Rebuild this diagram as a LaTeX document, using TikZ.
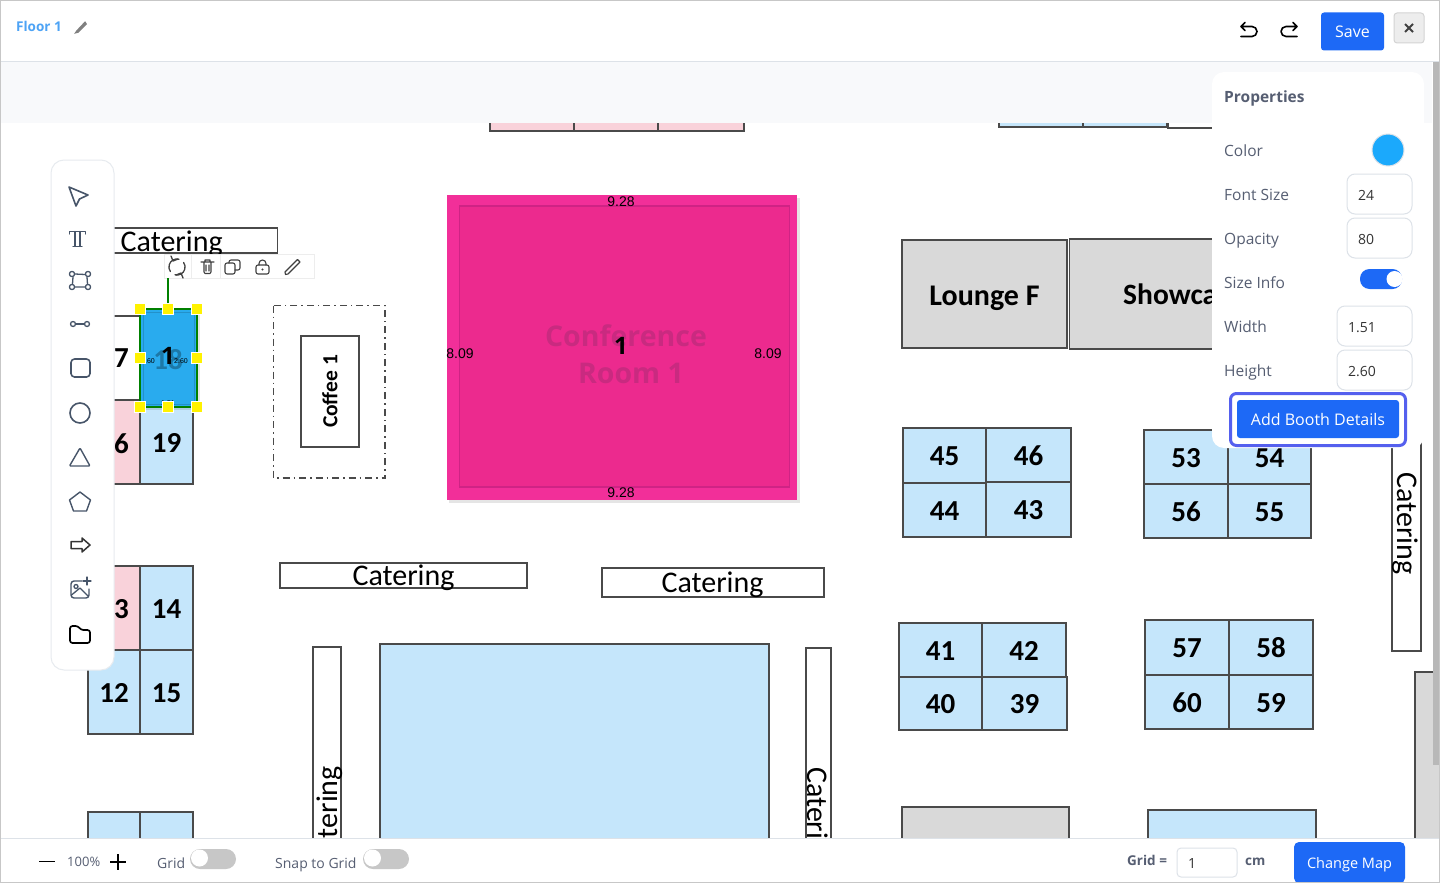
\documentclass[tikz,border=0pt]{standalone}
\usepackage{fontspec}
\setmainfont{Open Sans}
\newfontfamily\mapfont{Carlito}
\newfontfamily\dimfont{Liberation Sans}
\usepackage{tikz}
\usetikzlibrary{positioning}
\newcommand{\fsz}[1]{\fontsize{#1}{#1}\selectfont}
\definecolor{boothblue}{HTML}{C5E6FB}
\definecolor{boothpink}{HTML}{F9D2DA}
\definecolor{boothgrey}{HTML}{D9D9D9}
\definecolor{boothline}{HTML}{4A4A4A}
\definecolor{bandgrey}{HTML}{F8F9FB}
\definecolor{uiblue}{HTML}{1D69F6}
\definecolor{uitext}{HTML}{565E72}
\definecolor{iconline}{HTML}{475569}
\definecolor{edgegrey}{HTML}{DDE2E8}
\definecolor{hotpink}{HTML}{F22F99}
\definecolor{hotinner}{HTML}{EC2A8E}
\definecolor{hotline}{HTML}{CF2385}
\definecolor{hottext}{HTML}{C92A80}
\definecolor{selblue}{HTML}{29ABEE}
\definecolor{floorblue}{HTML}{4DA3F5}
\definecolor{swatchblue}{HTML}{1BA9FC}
\definecolor{ringblue}{HTML}{5560EE}
\tikzset{
  booth/.style={draw=boothline,line width=1.4pt,inner sep=0pt,fill=boothblue,text height=20.5pt,text depth=0pt,font=\mapfont\bfseries\fsz{29}},
  boothtext/.style={inner sep=0pt,font=\mapfont\bfseries\fsz{29}},
  lounge/.style={booth,fill=boothgrey,text height=22pt,font=\mapfont\bfseries\fsz{30}},
  cater/.style={draw=boothline,line width=1.4pt,inner sep=0pt,fill=white},
  catertext/.style={inner sep=0pt,font=\mapfont\fsz{30}},
  dimtext/.style={inner sep=0pt,font=\dimfont\fsz{14}},
  tinytext/.style={inner sep=0pt,font=\dimfont\fsz{7}},
  handle/.style={fill=yellow,draw=white,line width=0.5pt,minimum size=11pt,inner sep=0pt},
  uilabel/.style={anchor=base west,inner sep=0pt,text=uitext,font=\fsz{15.5}},
  inputbox/.style={draw=edgegrey,fill=white,rounded corners=8pt,line width=1pt,inner sep=0pt},
  inputtext/.style={anchor=base west,inner sep=0pt,text=black!80,font=\fsz{14}},
  uibutton/.style={fill=uiblue,text=white,rounded corners=3pt,inner sep=0pt,font=\fsz{16}},
  icon/.style={draw=iconline,line width=1.6pt,line join=round,line cap=round},
  darkicon/.style={draw=black,line width=1.6pt,line join=round,line cap=round},
  miniicon/.style={draw=black!75,line width=1.1pt,line join=round,line cap=round},
  toggleoff/.style={fill=black!22,rounded corners=10pt},
}
\begin{document}
\begin{tikzpicture}[x=1pt,y=-1pt]
\useasboundingbox (0,0) rectangle (1440,883);
\fill[white] (0,0) rectangle (1440,883);

\foreach \cx/\cy/\w/\h/\col/\nm/\txt in {
  532/90/84/82/boothpink/pa/{},616/90/84/82/boothpink/pb/{},701/90/86/82/boothpink/pc/{},
  1041/90/84/74/boothblue/ta/{},1125/90/84/74/boothblue/tb/{},1200/90/64/76/white/tc/{},
  114/358/52/84/white/s7/{},166.5/358/53/84/boothblue/s18/{},114/442/52/84/boothpink/s6/{},166.5/442/53/84/boothblue/s19/19,
  114/608/52/84/boothpink/s3/{},166.5/608/53/84/boothblue/s14/14,114/692/52/84/boothblue/s12/12,166.5/692/53/84/boothblue/s15/15,
  114/850/52/76/boothblue/s1a/{},166.5/850/53/76/boothblue/s1b/{},
  944.5/455.5/83/55/boothblue/s45/45,1028.5/455/85/54/boothblue/s46/46,944.5/510/83/54/boothblue/s44/44,1028.5/509.5/85/55/boothblue/s43/43,
  1186/457/84/54/boothblue/s53/53,1269.5/457/83/54/boothblue/s54/54,1186/511/84/54/boothblue/s56/56,1269.5/511/83/54/boothblue/s55/55,
  940.5/650/83/54/boothblue/s41/41,1024/650/84/54/boothblue/s42/42,940.5/703.5/83/53/boothblue/s40/40,1024.5/703.5/85/53/boothblue/s39/39,
  1187/647.5/84/55/boothblue/s57/57,1271/647.5/84/55/boothblue/s58/58,1187/702/84/54/boothblue/s60/60,1271/702/84/54/boothblue/s59/59,
  574.5/780/389/272/boothblue/hall/{},985.5/860/167/106/boothgrey/gb/{},1232/860/168/100/boothblue/bb/{},1440/780/50/216/boothgrey/gr/{}}
  \node[booth,fill=\col,minimum width=\w pt,minimum height=\h pt] (\nm) at (\cx,\cy) {\txt};
\node[boothtext] (t7) at (121.5,358.5) {7};
\node[boothtext] (t6) at (121.5,443.5) {6};
\node[boothtext] (t3) at (121.5,609) {3};

\node[lounge,minimum width=165pt,minimum height=108pt] (lounge) at (984.5,294) {Lounge F};
\node[lounge,minimum width=160pt,minimum height=110pt,anchor=west] (show) at (1068.5,294) {};
\node[inner sep=0pt,anchor=base west,font=\mapfont\bfseries\fsz{29.5}] (showtext) at (1123,304.5) {Showca};

\node[cater,minimum width=190pt,minimum height=25pt,anchor=west] (cattop) at (87,240.5) {};
\node[cater,minimum width=247pt,minimum height=25pt] (catmid) at (403.5,575.5) {};
\node[cater,minimum width=222pt,minimum height=29pt] (catright) at (713,582.5) {};
\node[cater,minimum width=29pt,minimum height=230pt] (catv) at (1406.5,536) {};
\node[cater,minimum width=28pt,minimum height=240pt] (cathl) at (327,767) {};
\node[cater,minimum width=25pt,minimum height=240pt] (cathr) at (818.5,768) {};
\node[catertext,anchor=base west] (cattoptext) at (120.5,251) {Catering};
\node[catertext] (catmidtext) at (403.5,577.5) {Catering};
\node[catertext] (catrighttext) at (712.5,584.5) {Catering};
\node[catertext,rotate=-90] (catvtext) at (1405,523.5) {Catering};
\node[catertext,rotate=90,anchor=east] (cathltext) at (330,766) {tering};
\node[catertext,rotate=-90,anchor=west] (cathrtext) at (818,767) {Cateri};

\draw[boothline,line width=1.2pt,dash pattern=on 7pt off 4pt on 1.5pt off 4pt] (273.5,305.5) rectangle (385,478);
\node[draw=boothline,line width=1.4pt,minimum width=58pt,minimum height=111pt,inner sep=0pt] (coffee) at (330,391.5) {};
\node[rotate=90,inner sep=0pt,font=\mapfont\bfseries\fsz{21.5}] (coffeetext) at (330,391.5) {Coffee 1};

\fill[black,opacity=0.10] (449,198) rectangle (800,503);
\node[fill=hotpink,minimum width=350pt,minimum height=305pt,inner sep=0pt] (conf) at (622,347.5) {};
\draw[hotline,fill=hotinner,line width=1.5pt] (459.5,206) rectangle (789.5,487);
\node[inner sep=0pt,text=hottext,font=\fsz{28.5}\bfseries] (conftext) at (626,336) {Conference};
\node[inner sep=0pt,text=hottext,font=\fsz{28.5}\bfseries] (roomtext) at (631,373) {Room 1};
\node[inner sep=0pt,font=\fsz{24}\bfseries] (confnum) at (621,346) {1};
\node[dimtext] (dimt) at (621,202) {9.28};
\node[dimtext] (dimb) at (621,493) {9.28};
\node[dimtext] (diml) at (460,354) {8.09};
\node[dimtext] (dimr) at (768,354) {8.09};

\fill[bandgrey] (0,62) rectangle (1432,123);

\fill[black,opacity=0.10] (142,311) rectangle (200,410);
\node[fill=selblue,minimum width=57pt,minimum height=98pt,inner sep=0pt] (sel) at (168.5,358) {};
\draw[selblue!85!black,line width=1pt] (143,312) rectangle (194,404);
\node[inner sep=0pt,text=selblue!70!black,font=\mapfont\bfseries\fsz{29}] (seltxt) at (168,360) {18};
\node[inner sep=0pt,font=\fsz{24}\bfseries] (selnum) at (168,356) {1};
\node[tinytext] (sell) at (150,361) {.60};
\node[tinytext] (selr) at (181,361) {2.60};
\node[tinytext] (selb) at (168,403) {1.51};
\draw[green!50!black,line width=2pt] (140,309) rectangle (197,407);
\foreach \hx/\hy/\nm in {140/309/ha,168/309/hb,197/309/hc,140/358/hd,197/358/he,140/407/hf,168/407/hg,197/407/hh}
  \node[handle] (\nm) at (\hx,\hy) {};

\node[fill=white,draw=black!7,line width=1pt,minimum width=150pt,minimum height=24pt,inner sep=0pt] (minibar) at (239,266) {};
\draw[black!7,line width=1pt] (191,254) -- (191,278) (220,254) -- (220,278);
\coordinate (rotfoot) at (168,278);
\draw[green!50!black,line width=1.5pt] (hb) -- (rotfoot);
\draw[miniicon,line width=1.3pt] (179,259.2) arc[start angle=75,end angle=215,radius=8pt];
\draw[miniicon,line width=1.3pt] (175,274.8) arc[start angle=255,end angle=395,radius=8pt];
\draw[miniicon,line width=1.3pt] (171,256) -- (173,261) -- (178,259) (183,278) -- (181,273) -- (176,275);
\draw[miniicon] (201,262) -- (214,262) (204,262) -- (204,272) -- ++(1,1.5) -- (210,273.5) -- ++(1,-1.5) -- (211,262) (205,262) -- (205,260) -- (210,260) -- (210,262) (206,265) -- (206,271) (209,265) -- (209,271);
\draw[miniicon,rounded corners=2pt] (225,263) rectangle (235,274);
\draw[miniicon,rounded corners=2pt] (229,263) -- (229,260) -- (240,260) -- (240,270) -- (235,270);
\draw[miniicon,rounded corners=2pt] (256,265) rectangle (269,274);
\draw[miniicon] (259,265) -- (259,263.5) arc[start angle=180,end angle=0,radius=3.5pt] -- (266,265);
\fill[black!75] (262.5,269.5) circle (1.2pt);
\draw[miniicon] (285,272) -- (285.5,274.5) -- (288,274) -- (300,262) -- (297.5,259.5) -- cycle;

\node[fill=white,draw=edgegrey!70,line width=1pt,rounded corners=13pt,minimum width=63pt,minimum height=510pt,inner sep=0pt] (toolbar) at (82.5,415) {};
\draw[icon] (69,187) -- (88,195) -- (79.5,199) -- (76,206) -- cycle;
\draw[icon,line width=1.2pt] (69.5,234) -- (69.5,231.5) -- (85.5,231.5) -- (85.5,234) (75,231.5) -- (75,246.5) (80,231.5) -- (80,246.5) (73,246.5) -- (82,246.5);
\foreach \ix/\iy in {72/274,88/274,72/287,88/287}
  \draw[icon,line width=1.3pt] (\ix,\iy) circle (2.6pt);
\draw[icon,line width=1.3pt] (75,274) -- (85,274.5) (73,277) -- (72.5,284) (87,277) -- (87.5,284) (75,287) -- (85,287);
\node[draw=iconline,line width=1.3pt,circle,minimum size=5pt,inner sep=0pt] (linka) at (73,324) {};
\node[draw=iconline,line width=1.3pt,circle,minimum size=5pt,inner sep=0pt] (linkb) at (87,324) {};
\draw[icon,line width=1.3pt] (linka) -- (linkb);
\draw[icon,rounded corners=3.5pt] (71,359) rectangle (90,377);
\draw[icon] (80,413) circle (10pt);
\draw[icon,line width=1.4pt,rounded corners=1pt] (80,448) -- (90,466) -- (69.5,466) -- cycle;
\draw[icon,line width=1.4pt] (80,492) -- (90.5,500) -- (86.5,511) -- (73.5,511) -- (69.5,500) -- cycle;
\draw[darkicon,draw=black!80,line width=1.5pt] (71,541.5) -- (82,541.5) -- (82,538) -- (90,545) -- (82,552) -- (82,548.5) -- (71,548.5) -- cycle;
\draw[icon,line width=1.4pt,rounded corners=3pt] (82,581) -- (71,581) -- (71,598) -- (89,598) -- (89,589);
\draw[icon,line width=1.3pt] (76,586.5) circle (2pt);
\draw[icon,line width=1.3pt] (71.5,595) -- (80,588) -- (88,596);
\draw[icon,line width=1.3pt] (87,577) -- (87,585) (83,581) -- (91,581);
\draw[darkicon,line width=1.7pt,rounded corners=2.5pt] (70,632) -- (70,626) -- (78,626) -- (81,630) -- (90,630) -- (90,643) -- (70,643) -- cycle;

\fill[white] (0,0) rectangle (1440,61.5);
\draw[edgegrey,line width=1pt] (0,61.5) -- (1440,61.5);
\node[anchor=base west,inner sep=0pt,text=floorblue,font=\fsz{13.5}\bfseries] (floor) at (16,32) {Floor 1};
\draw[black!50,line width=1.6pt] (77,31) -- (76,32.5) -- (78,32) -- (86,24) -- (85,22.5) -- cycle;
\draw[darkicon] (1245,22.5) -- (1241,26.5) -- (1245,30.5) (1241,26.5) -- (1252,26.5) arc[start angle=90,end angle=-90,radius=5pt] -- (1241,36.5);
\draw[darkicon] (1293,22.5) -- (1297,26.5) -- (1293,30.5) (1297,26.5) -- (1286,26.5) arc[start angle=90,end angle=270,radius=5pt] -- (1297,36.5);
\node[uibutton,minimum width=63pt,minimum height=38pt] (save) at (1352.5,31.5) {Save};
\node[fill=black!7,draw=black!17,line width=1pt,rounded corners=3pt,minimum width=30pt,minimum height=30pt,inner sep=0pt] (close) at (1409,28) {};
\draw[black!75,line width=1.8pt] (1405,24) -- (1413,32) (1413,24) -- (1405,32);

\fill[black!28] (1433,62) rectangle (1440,765);

\node[fill=white,rounded corners=12pt,minimum width=212pt,minimum height=376pt,inner sep=0pt] (panel) at (1318,260) {};
\node[uilabel,font=\fsz{15.5}\bfseries] (proptitle) at (1224,102) {Properties};
\foreach \ly/\lt/\nm in {156/Color/lcolor,200/Font Size/lfont,244/Opacity/lopac,288/Size Info/lsize,332/Width/lwidth,376/Height/lheight}
  \node[uilabel] (\nm) at (1224,\ly) {\lt};
\node[circle,fill=swatchblue,draw=edgegrey,line width=1pt,minimum size=32pt,inner sep=0pt] (swatch) at (1388,150) {};
\foreach \bx/\by/\w/\tx/\txt/\nm in {1379.5/194/65/1358/24/ifont,1379.5/238/65/1358/80/iopac,1374.5/326/75/1348/1.51/iwidth,1374.5/370/75/1348/2.60/iheight}{
  \node[inputbox,minimum width=\w pt,minimum height=40pt] (\nm) at (\bx,\by) {};
  \node[inputtext] (\nm t) at (\tx,\by+6) {\txt};
}
\node[fill=uiblue,rounded corners=9.5pt,minimum width=42pt,minimum height=20pt,inner sep=0pt] (sizetoggle) at (1381,279) {};
\node[circle,fill=white,minimum size=16pt,inner sep=0pt] (sizeknob) at (1394.5,279) {};
\node[draw=ringblue,line width=3pt,fill=white,rounded corners=6pt,minimum width=175pt,minimum height=52pt,inner sep=0pt] (addring) at (1318,419.5) {};
\node[uibutton,minimum width=162pt,minimum height=38pt] (addbtn) at (1318,419) {Add Booth Details};

\fill[white] (0,838) rectangle (1440,883);
\draw[edgegrey,line width=1pt] (0,838.5) -- (1440,838.5);
\draw[black,line width=1.6pt] (39,861.5) -- (55,861.5) (110,862) -- (126,862) (118,854) -- (118,870);
\node[uilabel,font=\fsz{13}] (zoomtxt) at (67,866) {100\%};
\node[uilabel,font=\fsz{14}] (gridtxt) at (157,868) {Grid};
\node[uilabel,font=\fsz{14}] (snaptxt) at (275,868) {Snap to Grid};
\node[toggleoff,minimum width=46pt,minimum height=20pt,inner sep=0pt] (gridtog) at (213,859) {};
\node[circle,fill=white,minimum size=17pt,inner sep=0pt] (gridknob) at (199.5,858) {};
\node[toggleoff,minimum width=46pt,minimum height=20pt,inner sep=0pt] (snaptog) at (386,859) {};
\node[circle,fill=white,minimum size=17pt,inner sep=0pt] (snapknob) at (372.5,858) {};
\node[uilabel,font=\fsz{13.5}\bfseries] (gridlbl) at (1127,865) {Grid =};
\node[inputbox,rounded corners=4pt,minimum width=60pt,minimum height=29pt] (gridinput) at (1207,862.5) {};
\node[inputtext] (gridval) at (1188,868) {1};
\node[uilabel,font=\fsz{13.5}\bfseries] (cmlbl) at (1245,865) {cm};
\node[uibutton,rounded corners=5pt,minimum width=111pt,minimum height=41pt,text height=12pt,text depth=0pt,font=\fsz{14.5}] (changemap) at (1349.5,862.5) {Change Map};

\draw[black!22,line width=1pt] (0.5,0.5) rectangle (1439.5,882.5);
\end{tikzpicture}
\end{document}
